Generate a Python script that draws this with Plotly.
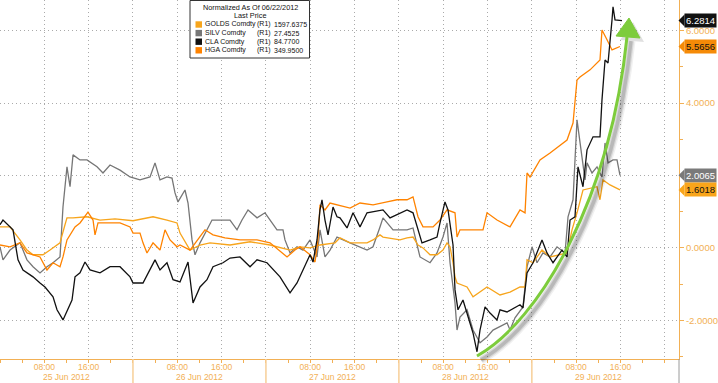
import plotly.graph_objects as go
import pandas as pd

BASE = pd.Timestamp("2012-06-25 00:00")

# ---- data (hours since 25 Jun 2012 00:00, normalized % change) ----
CLA_H = [0.0, 0.54, 2.35, 3.25, 4.15, 5.96, 7.22, 8.12, 9.57, 10.29, 11.37, 12.27, 13.0, 13.54, 14.44, 15.34,
         16.25, 18.05, 19.86, 21.66, 23.47, 24.01, 25.81, 27.98, 28.88, 30.14, 31.23, 32.49, 33.94, 34.84,
         36.10, 37.36, 38.45, 40.25, 41.52, 43.32, 45.13, 46.39, 48.19, 50.54, 52.35, 53.61, 54.69, 55.96,
         56.50, 57.22, 57.76, 58.12, 58.66, 59.21, 60.11, 60.83, 61.37, 62.64, 63.72, 64.98, 66.25, 69.13,
         70.40, 73.47, 74.55, 75.45, 76.17, 77.62, 78.88, 79.42, 80.32, 80.87, 81.77, 82.13, 82.67, 83.57,
         84.84, 85.38, 86.10, 86.64, 87.55, 88.45, 89.71, 90.25, 91.52, 93.86, 94.40, 95.13, 96.21, 97.83,
         98.74, 99.82, 101.44, 102.35, 102.89, 103.79, 104.33, 105.23, 105.96, 107.04, 108.30, 108.66,
         109.21, 109.75, 110.47, 110.65, 111.01, 112.27]
CLA_V = [0.64, 0.77, 0.50, -0.33, -0.61, -0.80, -0.97, -1.08, -1.35, -1.71, -1.99, -1.71, -1.44, -0.80, -0.69, -0.39,
         -0.61, -0.69, -0.52, -0.52, -0.80, -0.97, -0.97, -0.33, -0.61, -0.41, -0.88, -0.94, -0.39, -1.52,
         -1.08, -0.88, -0.52, -0.41, -0.28, -0.25, -0.52, -0.33, -0.41, -0.80, -1.24, -0.97, -0.61, -0.19,
         -0.39, 0.22, 1.05, 1.33, 0.77, 0.36, 1.13, 0.86, 0.83, 0.55, 0.97, 0.58, 0.97, 1.05,
         0.83, 1.05, 0.97, 0.50, 0.14, 0.22, 0.30, 0.69, 1.27, 1.05, 0.08, -1.16, -1.71, -1.44,
         -2.07, -2.35, -2.87, -2.27, -1.63, -1.80, -1.99, -1.71, -1.77, -1.57, -1.66, -0.69, -0.41, 0.22,
         -0.14, -0.41, -0.06, -0.25, 0.77, 0.86, 2.24, 1.69, 2.71, 3.07, 3.07, 4.09,
         5.19, 5.11, 6.30, 6.66, 6.30, 6.2814]

SILV_H = [0, 0.54, 1.81, 3.61, 4.87, 5.96, 7.22, 8.48, 9.57, 10.83, 11.37, 12.09, 12.64, 13.18, 14.44, 15.70,
          17.51, 18.59, 19.86, 21.66, 23.47, 25.27, 27.08, 27.98, 28.88, 30.14, 31.05, 31.59, 32.13, 33.39,
          33.94, 34.66, 35.20, 36.10, 37.36, 38.27, 39.71, 41.52, 42.78, 43.68, 44.77, 46.39, 47.83, 48.74,
          50.0, 51.08, 51.44, 52.35, 53.61, 54.69, 55.96, 57.22, 57.76, 58.66, 59.57, 60.83, 61.91, 63.18,
          66.25, 67.33, 68.59, 69.13, 70.94, 73.47, 74.55, 75.81, 77.62, 78.88, 79.96, 80.69, 81.23, 82.13,
          82.49, 83.03, 84.30, 85.38, 86.64, 87.91, 88.99, 90.25, 91.52, 92.06, 92.96, 94.40, 95.13, 96.03,
          96.93, 98.01, 99.28, 100.54, 101.99, 102.53, 103.43, 104.15, 104.69, 105.05, 105.60, 105.96,
          106.86, 107.76, 108.66, 109.21, 109.75, 110.65, 111.37, 111.91]
SILV_V = [0.03, -0.33, -0.06, 0.14, -0.33, -0.52, -0.69, -0.52, -0.41, -0.25, 1.13, 2.24, 1.69, 2.57, 2.43, 2.43,
          2.24, 2.07, 2.29, 2.15, 1.96, 1.88, 1.96, 2.35, 1.88, 1.96, 1.93, 1.52, 1.27, 1.60,
          1.24, 0.22, -0.19, 0.14, 0.50, 0.77, 0.77, 0.77, 0.50, 0.77, 1.05, 0.83, 0.97, 0.77,
          0.50, 0.50, 0.22, -0.14, 0.03, -0.06, 0.22, -0.25, 0.50, -0.25, -0.06, 0.30, 0.22, 0.14,
          -0.06, 0.03, 0.58, 0.83, 0.50, 0.50, 0.55, -0.25, -0.41, -0.14, 0.30, 0.69, -0.41, -1.52,
          -2.27, -1.91, -1.71, -2.27, -2.62, -2.46, -2.27, -2.18, -2.07, -2.27, -1.93, -1.63, -0.52, 0.03,
          -0.41, -0.14, -0.25, 0.03, -0.14, 0.86, 1.33, 3.54, 2.98, 2.51, 1.88, 2.35,
          2.07, 2.24, 1.96, 2.90, 2.35, 2.43, 2.43, 2.0065]

GOLDS_H = [0, 1.81, 3.61, 4.87, 5.96, 7.76, 9.03, 9.93, 10.83, 11.73, 12.09, 13.18, 15.70, 18.05, 20.76, 24.01,
           27.62, 30.14, 31.95, 32.49, 34.30, 36.10, 37.91, 41.52, 45.13, 48.74, 52.35, 54.15, 55.96, 57.76,
           60.47, 61.37, 63.18, 66.25, 67.33, 68.59, 69.13, 72.20, 73.47, 74.55, 75.45, 76.35, 77.62, 78.88,
           79.96, 80.69, 81.23, 81.77, 82.13, 82.49, 84.30, 85.38, 87.91, 90.25, 92.06, 93.86, 94.77, 95.13,
           96.21, 97.83, 99.28, 102.35, 103.25, 104.15, 104.69, 105.23, 107.76, 108.30, 108.84, 110.11, 111.91]
GOLDS_V = [0.58, 0.58, 0.22, -0.06, -0.19, -0.19, -0.06, 0.03, 0.14, 0.64, 0.83, 0.83, 0.86, 0.77, 0.80, 0.75,
           0.86, 0.77, 0.69, 0.41, -0.06, 0.08, 0.14, 0.08, 0.17, 0.08, -0.06, 0.03, 0.0, 0.08,
           0.14, 0.28, 0.14, 0.14, 0.22, 0.36, 0.30, 0.22, 0.28, 0.30, 0.08, 0.0, -0.19, -0.19,
           -0.06, 0.14, 0.03, -0.41, -0.80, -0.97, -1.08, -1.35, -1.08, -1.30, -1.22, -1.08, -1.08, -0.33,
           -0.41, -0.06, -0.25, -0.14, 0.50, 0.97, 1.33, 1.60, 1.69, 1.33, 1.88, 1.74, 1.6018]

HGA_H = [0, 1.81, 3.61, 4.87, 7.22, 8.48, 9.57, 10.83, 11.37, 12.09, 13.54, 14.44, 15.88, 16.79, 17.15, 17.69,
         19.86, 21.66, 23.47, 24.01, 25.27, 25.81, 26.53, 27.62, 28.88, 29.78, 30.69, 31.95, 32.49, 34.30,
         37.00, 38.45, 40.61, 43.32, 46.39, 48.74, 51.81, 53.25, 54.15, 55.96, 56.86, 57.40, 57.76, 58.66,
         59.57, 60.83, 62.27, 63.18, 64.98, 67.33, 69.86, 71.66, 73.47, 74.55, 75.45, 76.35, 78.16, 79.42,
         80.69, 82.13, 82.49, 83.03, 85.38, 87.18, 87.91, 89.71, 92.06, 93.86, 94.77, 95.13, 95.67, 97.47,
         99.28, 102.35, 103.43, 104.15, 104.69, 106.5, 108.30, 108.66, 109.57, 110.47, 111.91]
HGA_V = [0.08, 0.03, 0.14, -0.14, -0.25, -0.61, -0.41, -0.52, -0.25, 0.22, 0.58, 0.69, 0.99, 0.77, 0.36, 0.69,
         0.69, 0.69, 0.58, 0.41, 0.41, 0.14, -0.14, 0.14, -0.06, 0.50, 0.22, 0.03, 0.08, -0.06,
         0.50, 0.36, 0.28, 0.22, 0.22, 0.14, -0.25, -0.06, 0.03, -0.19, -0.39, 0.22, 1.19, 1.05,
         1.24, 1.19, 1.13, 1.10, 1.24, 1.19, 1.27, 1.33, 1.33, 1.41, 0.86, 0.58, 0.58, 0.77,
         1.05, 0.97, 0.30, 0.50, 0.50, 0.50, 0.97, 0.77, 0.58, 1.05, 0.97, 2.07, 1.96, 2.43,
         2.62, 2.98, 3.45, 4.64, 4.72, 4.92, 5.19, 6.02, 5.75, 5.47, 5.5656]

LEGEND_TITLE = ["Normalized As Of 06/22/2012", "Last Price"]
LEGEND_NAMES = ["GOLDS Comdty", "SILV Comdty", "CLA Comdty", "HGA Comdty"]
LEGEND_PRICES = ["1597.6375", "27.4525", "84.7700", "349.9500"]

Y_TICKS = [-2, 0, 2, 4, 6]
Y_MINOR = [-3, -1, 1, 3, 5]
X_TICK_TEXT = ["", "08:00", "16:00"]
DAY_LABELS = ["25 Jun 2012", "26 Jun 2012", "27 Jun 2012", "28 Jun 2012", "29 Jun 2012"]

# ---- styling ----
C_GOLD = "#f7a51c"
C_SILV = "#767676"
C_CLA = "#111111"
C_HGA = "#ff8300"
AX = "#f2b055"
GRID = "#aaaaaa"
FONT = "Liberation Sans"

W, H = 718, 383
ML, MR, MT, MB = 0, 39, 0, 24
PW, PH = W - ML - MR, H - MT - MB
YMIN, YMAX = -3.07, 6.85
XEND_H = 122.56


def dates(hours):
    return [BASE + pd.Timedelta(hours=h) for h in hours]


def px(x):
    return x / PW


def py(y):
    return 1 - y / PH


fig = go.Figure()
series = [("SILV", SILV_H, SILV_V, C_SILV), ("GOLDS", GOLDS_H, GOLDS_V, C_GOLD),
          ("HGA", HGA_H, HGA_V, C_HGA), ("CLA", CLA_H, CLA_V, C_CLA)]
for name, hh, vv, col in series:
    fig.add_trace(go.Scatter(x=dates(hh), y=vv, mode="lines", name=name,
                             line=dict(color=col, width=1.3), showlegend=False,
                             hoverinfo="skip"))

tickvals = [BASE + pd.Timedelta(hours=8 * k) for k in range(16)]
ticktext = [X_TICK_TEXT[k % 3] for k in range(16)]

shapes = []
annotations = []

# day separators below axis and right gray line
for d in range(1, 5):
    shapes.append(dict(type="line", xref="x", yref="paper",
                       x0=BASE + pd.Timedelta(days=d), x1=BASE + pd.Timedelta(days=d),
                       y0=0, y1=-MB / PH, line=dict(color="#f7cf98", width=1.5)))
shapes.append(dict(type="line", xref="paper", yref="paper", x0=1, x1=1, y0=0, y1=-MB / PH,
                   line=dict(color="#9a9a9a", width=1)))

for d, lab in enumerate(DAY_LABELS):
    annotations.append(dict(x=BASE + pd.Timedelta(hours=24 * d + 12), xref="x", yref="paper",
                            y=-17.5 / PH, text=lab, showarrow=False, yanchor="middle",
                            font=dict(family=FONT, size=8.5, color=AX)))

# green arrow with shadow
P0, P1, P2, P3 = (477, 356), (540, 320), (610, 200), (627, 37)


def cpath(dx=0, dy=0):
    pts = [(px(a + dx), py(b + dy)) for a, b in (P0, P1, P2, P3)]
    return "M {:.5f},{:.5f} C {:.5f},{:.5f} {:.5f},{:.5f} {:.5f},{:.5f}".format(
        *pts[0], *pts[1], *pts[2], *pts[3])


def head(dx=0, dy=0):
    tri = [(629, 18), (640, 38), (616, 36)]
    p = [(px(a + dx), py(b + dy)) for a, b in tri]
    return "M {:.5f},{:.5f} L {:.5f},{:.5f} L {:.5f},{:.5f} Z".format(*p[0], *p[1], *p[2])


for w, op in [(9, 0.06), (6, 0.10), (3.5, 0.14)]:
    shapes.append(dict(type="path", xref="paper", yref="paper", path=cpath(4, 4),
                       line=dict(color="rgba(0,0,0,%.2f)" % op, width=w)))
shapes.append(dict(type="path", xref="paper", yref="paper", path=head(4, 4),
                   fillcolor="rgba(0,0,0,0.12)", line=dict(width=0)))
shapes.append(dict(type="path", xref="paper", yref="paper", path=cpath(),
                   line=dict(color="#7dcc3c", width=3)))
shapes.append(dict(type="path", xref="paper", yref="paper", path=head(),
                   fillcolor="#7dcc3c", line=dict(color="#7dcc3c", width=1)))

# legend box
shapes.append(dict(type="rect", xref="paper", yref="paper", x0=px(190), x1=px(309.5),
                   y0=py(58), y1=py(0.5), fillcolor="white", line=dict(color="#333333", width=1)))
for i, t in enumerate(LEGEND_TITLE):
    annotations.append(dict(x=px(250), y=py(7 + 8.3 * i), xref="paper", yref="paper", text=t,
                            showarrow=False, xanchor="center", yanchor="middle",
                            font=dict(family=FONT, size=7.3, color="#111111")))
leg_cols = [C_GOLD, C_SILV, C_CLA, C_HGA]
for i, (nm, pr) in enumerate(zip(LEGEND_NAMES, LEGEND_PRICES)):
    yy = 24.5 + 8.6 * i
    shapes.append(dict(type="rect", xref="paper", yref="paper", x0=px(195.5), x1=px(202),
                       y0=py(yy + 3.2), y1=py(yy - 3.2), fillcolor=leg_cols[i], line=dict(width=0)))
    for xx, t in [(204, nm), (256, "(R1)"), (273, pr)]:
        annotations.append(dict(x=px(xx), y=py(yy), xref="paper", yref="paper", text=t,
                                showarrow=False, xanchor="left", yanchor="middle", borderpad=0,
                                font=dict(family=FONT, size=7, color="#111111")))

# last value tags
tags = [(CLA_V[-1], C_CLA, "white"), (HGA_V[-1], "#f58a07", "#111111"),
        (SILV_V[-1], "#7a7a7a", "white"), (GOLDS_V[-1], "#f9a51a", "#111111")]
upx = (YMAX - YMIN) / PH
for val, bg, fc in tags:
    annotations.append(dict(x=px(684), y=val, xref="paper", yref="y", text="%.4f" % val,
                            showarrow=False, xanchor="left", yanchor="middle", bgcolor=bg,
                            borderpad=1, font=dict(family=FONT, size=9.5, color=fc)))
    shapes.append(dict(type="path", xref="paper", yref="y",
                       path="M {:.5f},{:.5f} L {:.5f},{:.5f} L {:.5f},{:.5f} Z".format(
                           px(678.5), val, px(684.5), val + 6 * upx, px(684.5), val - 6 * upx),
                       fillcolor=bg, line=dict(width=0)))

fig.update_layout(
    width=W, height=H, autosize=False,
    margin=dict(l=ML, r=MR, t=MT, b=MB, pad=0),
    paper_bgcolor="white", plot_bgcolor="white",
    shapes=shapes, annotations=annotations, hovermode=False,
    xaxis=dict(type="date", range=[BASE, BASE + pd.Timedelta(hours=XEND_H)],
               tickvals=tickvals, ticktext=ticktext, ticks="", showgrid=True,
               gridcolor=GRID, griddash="1px,3px", gridwidth=1,
               showline=True, linecolor=AX, linewidth=1, zeroline=False,
               tickfont=dict(family=FONT, size=8.5, color=AX),
               minor=dict(dtick=4 * 3600 * 1000, tick0=BASE, ticks="outside", ticklen=3,
                          tickcolor=AX, showgrid=False)),
    yaxis=dict(side="right", range=[YMIN, YMAX], tickvals=Y_TICKS,
               ticktext=["%.4f" % v for v in Y_TICKS], ticks="outside", ticklen=4,
               tickcolor=AX, showgrid=True, gridcolor=GRID, griddash="1px,3px", gridwidth=1,
               showline=True, linecolor=AX, linewidth=1, zeroline=False,
               tickfont=dict(family=FONT, size=9.5, color=AX),
               minor=dict(tickvals=Y_MINOR, ticks="outside", ticklen=3, tickcolor=AX,
                          showgrid=False)),
)

fig.write_html("out.html", config={"displayModeBar": False, "staticPlot": True},
               post_script="document.body.style.margin='0';document.body.style.overflow='hidden';")
